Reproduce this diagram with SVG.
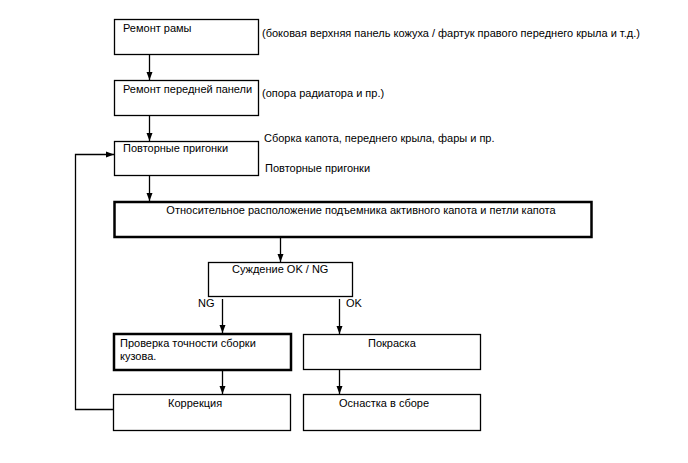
<svg xmlns="http://www.w3.org/2000/svg" width="688" height="463" viewBox="0 0 688 463">
<defs>
<marker id="ah" viewBox="0 0 8 8" refX="8" refY="4" markerWidth="8" markerHeight="8" markerUnits="userSpaceOnUse" orient="auto">
<path d="M0,1 L8,4 L0,7 z" fill="#000"/>
</marker>
<style>
text{font-family:"Liberation Sans",Arial,sans-serif;font-size:11px;fill:#000}
.b{fill:#fff;stroke:#000;stroke-width:1.3}
.t{fill:#fff;stroke:#000;stroke-width:2.5}
.c{fill:none;stroke:#000;stroke-width:1.3}
.a{marker-end:url(#ah)}
</style>
</defs>
<rect width="688" height="463" fill="#fff"/>
<g id="connectors">
<line class="c a" x1="149.5" y1="54" x2="149.5" y2="80"/>
<line class="c a" x1="149.5" y1="116" x2="149.5" y2="141"/>
<line class="c a" x1="149.5" y1="176" x2="149.5" y2="201"/>
<line class="c a" x1="280.5" y1="237" x2="280.5" y2="262"/>
<line class="c a" x1="222.5" y1="299" x2="222.5" y2="333"/>
<line class="c a" x1="339.5" y1="299" x2="339.5" y2="334"/>
<line class="c a" x1="222.5" y1="371" x2="222.5" y2="394"/>
<line class="c a" x1="339.5" y1="370" x2="339.5" y2="394"/>
<polyline class="c a" points="113,409.5 75.5,409.5 75.5,154.5 114,154.5"/>
</g>
<g id="n1">
<rect class="b" x="114.5" y="19.5" width="144" height="35"/>
<text x="123" y="32">Ремонт рамы</text>
</g>
<g id="n1note"><text x="262" y="37">(боковая верхняя панель кожуха / фартук правого переднего крыла и т.д.)</text></g>
<g id="n2">
<rect class="b" x="114.5" y="80.5" width="144" height="35"/>
<text x="123" y="93">Ремонт передней панели</text>
</g>
<g id="n2note"><text x="262" y="97">(опора радиатора и пр.)</text></g>
<g id="n3">
<rect class="b" x="114.5" y="141.5" width="144" height="34"/>
<text x="123" y="152">Повторные пригонки</text>
</g>
<g id="n3note">
<text x="264" y="142">Сборка капота, переднего крыла, фары и пр.</text>
<text x="265" y="172">Повторные пригонки</text>
</g>
<g id="n4">
<rect class="t" x="114.5" y="202" width="477" height="35"/>
<text x="361" y="214" text-anchor="middle">Относительное расположение подъемника активного капота и петли капота</text>
</g>
<g id="n5">
<rect class="b" x="208.5" y="262.5" width="144" height="34"/>
<text x="232" y="273">Суждение OK / NG</text>
</g>
<g id="labels">
<text x="198" y="307">NG</text>
<text x="346" y="307">OK</text>
</g>
<g id="n6">
<rect class="t" x="114" y="334" width="177" height="36"/>
<text x="120" y="347">Проверка точности сборки</text>
<text x="120" y="360">кузова.</text>
</g>
<g id="n7">
<rect class="b" x="303.5" y="334.5" width="177" height="35"/>
<text x="368" y="347">Покраска</text>
</g>
<g id="n8">
<rect class="b" x="113.5" y="394.5" width="177" height="36"/>
<text x="168" y="407">Коррекция</text>
</g>
<g id="n9">
<rect class="b" x="303.5" y="394.5" width="177" height="36"/>
<text x="339" y="407">Оснастка в сборе</text>
</g>
</svg>
